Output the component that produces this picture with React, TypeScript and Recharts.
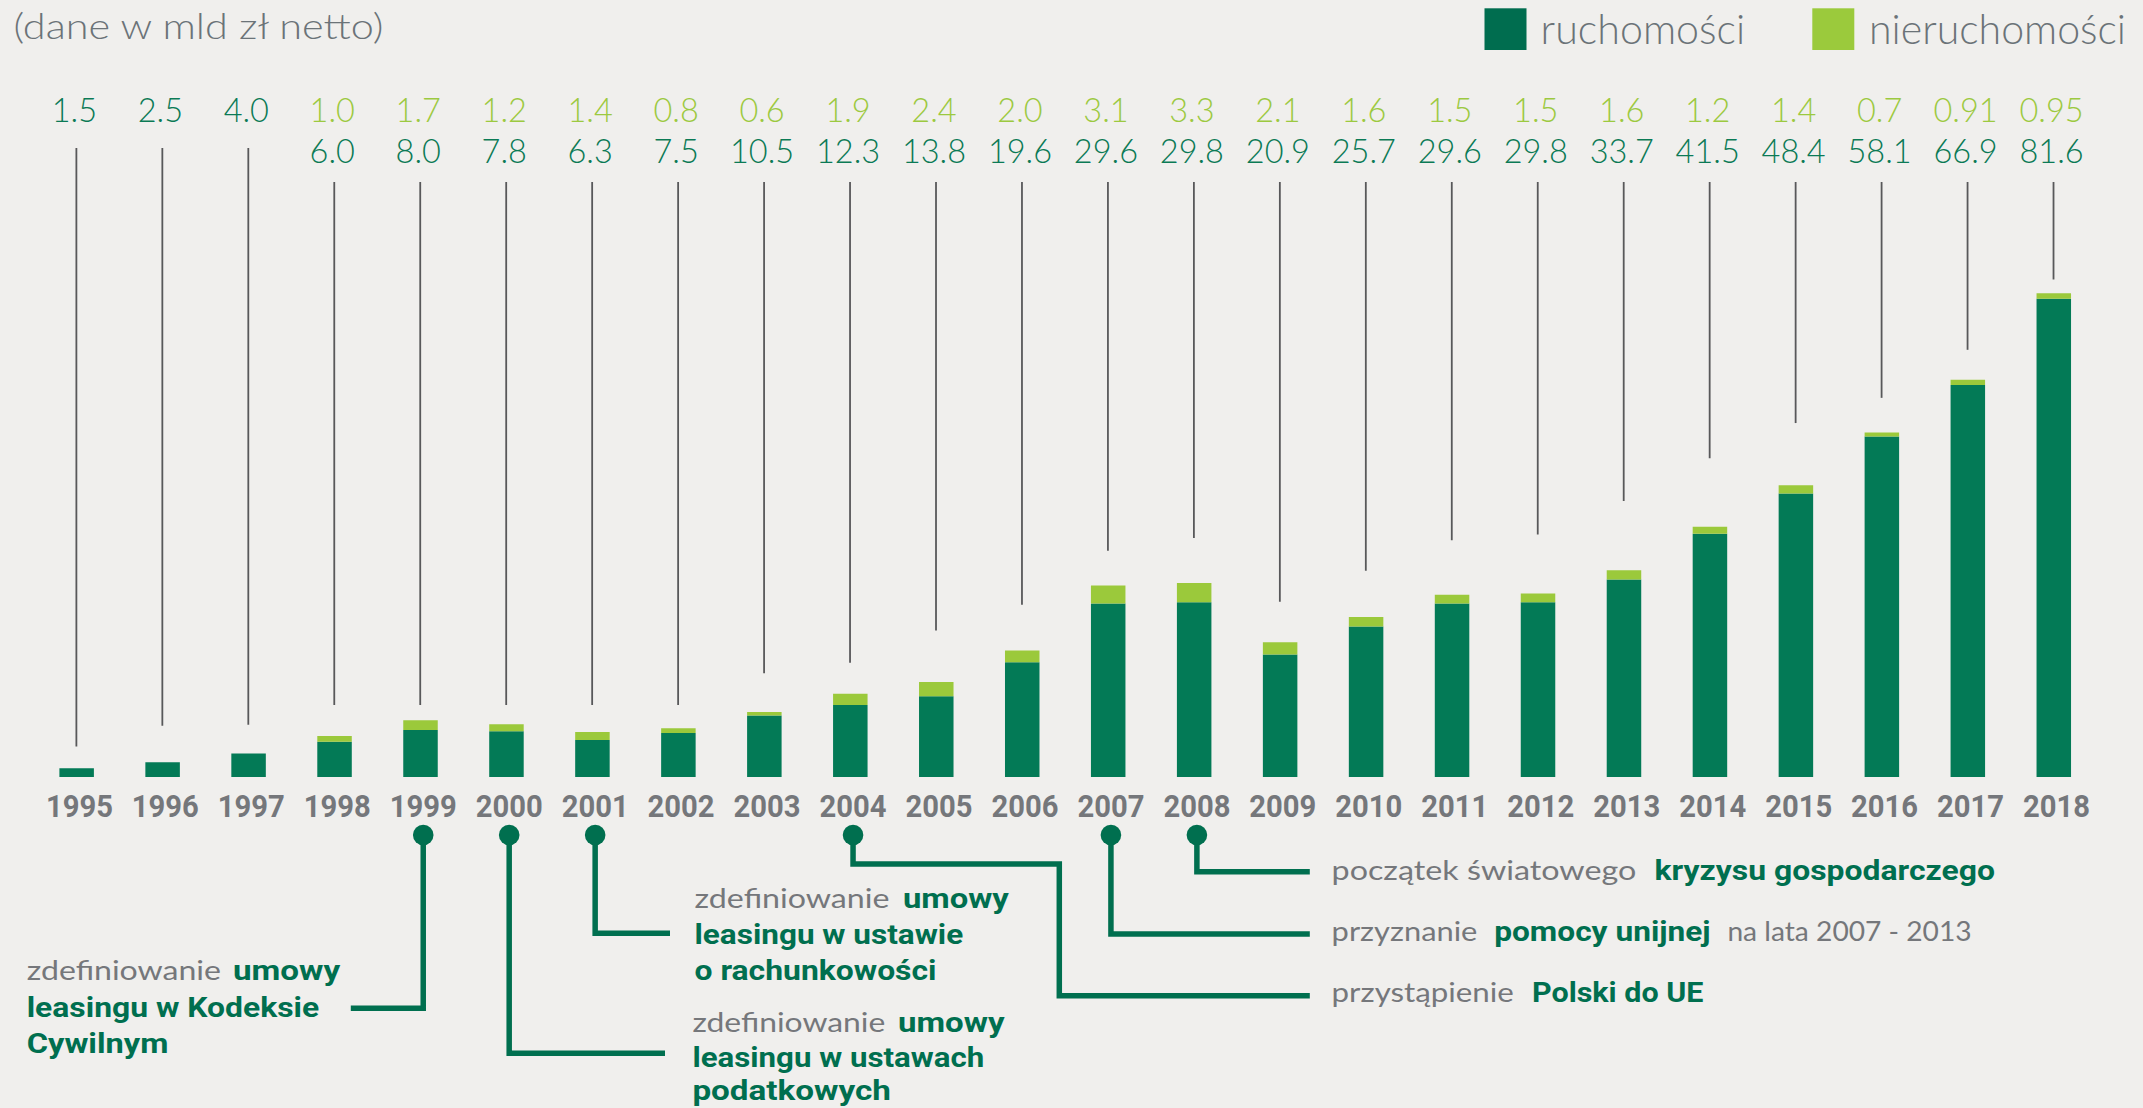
import React from 'react';
import { ComposedChart, Bar, Line, XAxis, YAxis } from 'recharts';

// ---------- data ----------
const years = ['1995', '1996', '1997', '1998', '1999', '2000', '2001', '2002', '2003', '2004', '2005', '2006',
  '2007', '2008', '2009', '2010', '2011', '2012', '2013', '2014', '2015', '2016', '2017', '2018'];
const ruchomosci = [1.5, 2.5, 4.0, 6.0, 8.0, 7.8, 6.3, 7.5, 10.5, 12.3, 13.8, 19.6, 29.6, 29.8, 20.9, 25.7,
  29.6, 29.8, 33.7, 41.5, 48.4, 58.1, 66.9, 81.6];
const nieruchomosci: (number | null)[] = [null, null, null, 1.0, 1.7, 1.2, 1.4, 0.8, 0.6, 1.9, 2.4, 2.0, 3.1,
  3.3, 2.1, 1.6, 1.5, 1.5, 1.6, 1.2, 1.4, 0.7, 0.91, 0.95];
// value (in mld zł) at which each thin leader line ends above its bar
const leaderEnd = [5.2, 8.75, 8.9, 12.3, 12.3, 12.3, 12.3, 12.3, 17.7, 19.5, 25.0, 29.4, 38.6, 40.8, 29.9,
  35.2, 40.4, 41.4, 47.1, 54.4, 60.4, 64.7, 72.9, 84.9];

const seriesNames = ['ruchomości', 'nieruchomości'];
const subtitle = '(dane w mld zł netto)';

// milestone annotations: [text, isBold]
const events = [
  { year: '1999', lines: [[['zdefiniowanie', 0], ['umowy', 1]], [['leasingu w Kodeksie', 1]], [['Cywilnym', 1]]] },
  { year: '2000', lines: [[['zdefiniowanie', 0], ['umowy', 1]], [['leasingu w ustawach', 1]], [['podatkowych', 1]]] },
  { year: '2001', lines: [[['zdefiniowanie', 0], ['umowy', 1]], [['leasingu w ustawie', 1]], [['o rachunkowości', 1]]] },
  { year: '2004', lines: [[['przystąpienie', 0], ['Polski do UE', 1]]] },
  { year: '2007', lines: [[['przyznanie', 0], ['pomocy unijnej', 1], ['na lata 2007 - 2013', 0]]] },
  { year: '2008', lines: [[['początek światowego', 0], ['kryzysu gospodarczego', 1]]] },
];

// ---------- style / layout ----------
const W = 2143;
const H = 1108;
const BG = '#f0efed';
const DARK = '#037a56';
const LIGHT = '#9bc93b';
const DARK_TXT = '#0b7a55';
const LIGHT_TXT = '#9cc940';
const ANN = '#006f4f';
const GRAY = '#75777b';
const LEADER = '#58585a';
const NUM_FONT = "Lato, 'Open Sans', sans-serif";
const BOLD_FONT = "Roboto, 'Liberation Sans', sans-serif";

const eventLayout: Record<string, { path: (cx: number) => number[][]; x: number[][]; w: number[][]; base: number[] }> = {
  '1999': { path: (cx) => [[cx, 835], [cx, 1008.3], [350.8, 1008.3]], x: [[26.7, 232.9], [26.7], [26.7]], w: [[194.3, 107.3], [292.5], [141.7]], base: [980, 1016.7, 1053.3] },
  '2000': { path: (cx) => [[cx, 835], [cx, 1053.3], [665, 1053.3]], x: [[692.4, 898], [692.4], [692.4]], w: [[192.9, 106.6], [291.8], [198.6]], base: [1031.7, 1066.5, 1099.5] },
  '2001': { path: (cx) => [[cx, 835], [cx, 933.3], [670, 933.3]], x: [[694.5, 902.9], [694.5], [694.5]], w: [[195, 105.9], [268.7], [242]], base: [908.3, 944.3, 980.3] },
  '2004': { path: (cx) => [[cx, 835], [cx, 864], [1059.3, 864], [1059.3, 995.7], [1309.8, 995.7]], x: [[1331.6, 1532]], w: [[182.2, 171.4]], base: [1002] },
  '2007': { path: (cx) => [[cx, 835], [cx, 934], [1309.8, 934]], x: [[1331.6, 1494.2, 1727.4]], w: [[145.8, 216.4, 244.2]], base: [941] },
  '2008': { path: (cx) => [[cx, 835], [cx, 871.7], [1309.8, 871.7]], x: [[1331.6, 1654.5]], w: [[304.7, 340.4]], base: [880] },
};

const fmt = (v: number) => {
  const s = String(v);
  return s.includes('.') ? s : s + '.0';
};

const YearTick = (props: any) => {
  const { x, y, payload } = props;
  return (
    <text x={x + 3} y={y + 39.7} textAnchor="middle" fontFamily={BOLD_FONT} fontWeight={700} fontSize={32}
      fill={GRAY} textLength={67} lengthAdjust="spacingAndGlyphs">
      {payload.value}
    </text>
  );
};

const renderDot = (props: any) => {
  const { cx, cy, index, payload } = props;
  if (cx == null || cy == null) return <g key={`d-${index}`} />;
  const hasNier = payload.nier != null;
  const top = hasNier ? 182 : 148;
  const ev = events.find((e) => e.year === payload.year);
  const lay = ev ? eventLayout[ev.year] : null;
  return (
    <g key={`d-${index}`}>
      <line x1={cx} x2={cx} y1={top} y2={cy} stroke={LEADER} strokeWidth={1.8} />
      {hasNier ? (
        <>
          <text x={cx - 2} y={121.7} textAnchor="middle" fontFamily={NUM_FONT} fontWeight={300} fontSize={32.5} fill={LIGHT_TXT}>
            {fmt(payload.nier)}
          </text>
          <text x={cx - 2} y={163.3} textAnchor="middle" fontFamily={NUM_FONT} fontWeight={300} fontSize={32.5} fill={DARK_TXT}>
            {fmt(payload.ruch)}
          </text>
        </>
      ) : (
        <text x={cx - 2} y={121.7} textAnchor="middle" fontFamily={NUM_FONT} fontWeight={300} fontSize={32.5} fill={DARK_TXT}>
          {fmt(payload.ruch)}
        </text>
      )}
      {ev && lay && (
        <g>
          <polyline points={lay.path(cx + 3).map((p) => p.join(',')).join(' ')} fill="none" stroke={ANN}
            strokeWidth={5.5} strokeLinejoin="miter" />
          <circle cx={cx + 3} cy={835} r={10.3} fill={ANN} />
          {ev.lines.map((ln, li) =>
            ln.map((piece, pi) => {
              const bold = piece[1] === 1;
              return (
                <text key={`t-${li}-${pi}`} x={lay.x[li][pi]} y={lay.base[li]}
                  fontFamily={bold ? BOLD_FONT : NUM_FONT} fontWeight={bold ? 700 : 400}
                  fontSize={bold ? 27 : 26} fill={bold ? ANN : GRAY}
                  textLength={lay.w[li][pi]} lengthAdjust="spacingAndGlyphs">
                  {piece[0] as string}
                </text>
              );
            })
          )}
        </g>
      )}
    </g>
  );
};

export default function App() {
  const data = years.map((y, i) => ({
    year: y,
    ruch: ruchomosci[i],
    nier: nieruchomosci[i],
    leader: leaderEnd[i],
  }));
  return (
    <div style={{ position: 'absolute', left: 0, top: 0, width: W, height: H, background: BG, overflow: 'hidden' }}>
      <ComposedChart width={W} height={H} data={data}
        margin={{ top: 132.4, right: 46.5, bottom: 291, left: 33.4 }}>
        <XAxis dataKey="year" height={40} tickLine={false} axisLine={false} tickSize={0} tickMargin={0}
          interval={0} tick={(p: any) => <YearTick {...p} />} />
        <YAxis hide domain={[0, 110]} />
        <Bar dataKey="ruch" name={seriesNames[0]} stackId="a" fill={DARK} barSize={34.5} isAnimationActive={false} />
        <Bar dataKey="nier" name={seriesNames[1]} stackId="a" fill={LIGHT} barSize={34.5} isAnimationActive={false} />
        <Line dataKey="leader" stroke="none" dot={renderDot} activeDot={false} isAnimationActive={false}
          legendType="none" />
      </ComposedChart>
      <svg width={W} height={H} style={{ position: 'absolute', left: 0, top: 0, pointerEvents: 'none' }}>
        <text x={13.4} y={39.3} fontFamily={NUM_FONT} fontWeight={300} fontSize={35} fill="#6b7378"
          textLength={370} lengthAdjust="spacingAndGlyphs">{subtitle}</text>
        <rect x={1484.5} y={8.3} width={42} height={41.7} fill="#006d4f" />
        <text x={1540.6} y={44} fontFamily={NUM_FONT} fontWeight={300} fontSize={41} fill="#6b7378"
          textLength={204.6} lengthAdjust="spacingAndGlyphs">{seriesNames[0]}</text>
        <rect x={1812.3} y={8.3} width={42} height={41.7} fill="#9bca3c" />
        <text x={1869} y={44} fontFamily={NUM_FONT} fontWeight={300} fontSize={41} fill="#6b7378"
          textLength={257} lengthAdjust="spacingAndGlyphs">{seriesNames[1]}</text>
      </svg>
    </div>
  );
}
